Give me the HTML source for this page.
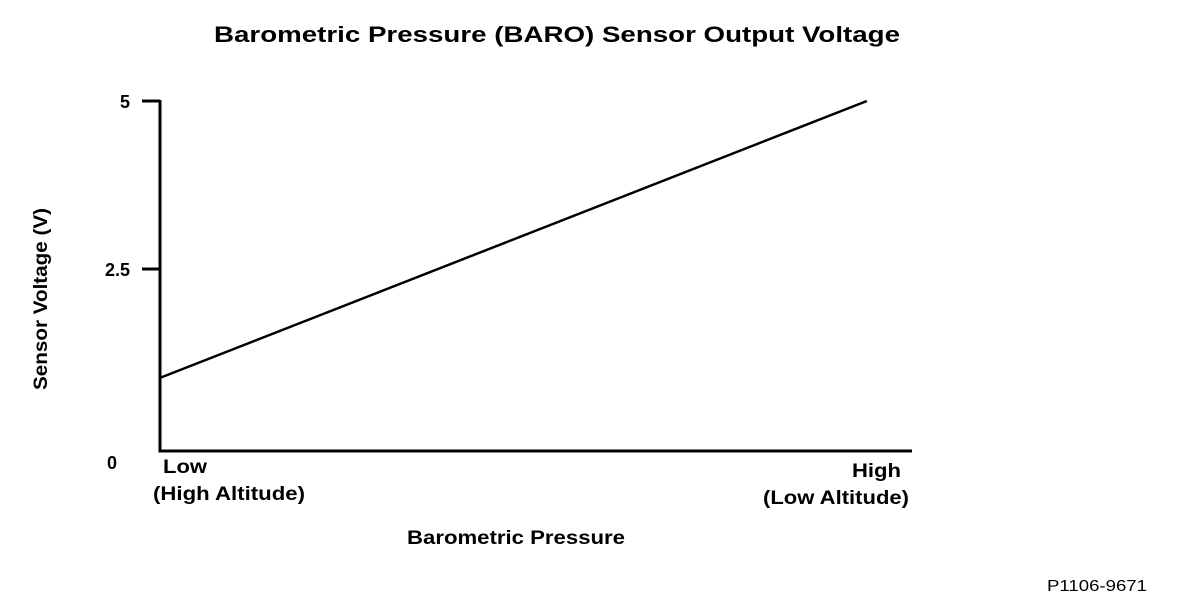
<!DOCTYPE html>
<html><head><meta charset="utf-8"><style>
html,body{margin:0;padding:0;background:#fff;}
svg{display:block;font-family:"Liberation Sans",Arial,sans-serif;font-weight:bold;}
</style></head><body>
<svg width="1184" height="608" viewBox="0 0 1184 608">
<text x="214" y="42" font-size="22" textLength="686" lengthAdjust="spacingAndGlyphs">Barometric Pressure (BARO) Sensor Output Voltage</text>
<g id="axes"></g>
<g id="ticks"></g>
<g id="series"></g>
<text x="0" y="0" font-size="19" textLength="182" lengthAdjust="spacingAndGlyphs" transform="translate(47 390) rotate(-90)">Sensor Voltage (V)</text>
<text x="107" y="469" font-size="18">0</text>
<text x="163" y="473" font-size="19" textLength="44" lengthAdjust="spacingAndGlyphs">Low</text>
<text x="153" y="500" font-size="19" textLength="152" lengthAdjust="spacingAndGlyphs">(High Altitude)</text>
<text x="852" y="477" font-size="19" textLength="49" lengthAdjust="spacingAndGlyphs">High</text>
<text x="763" y="504" font-size="19" textLength="146" lengthAdjust="spacingAndGlyphs">(Low Altitude)</text>
<text x="407" y="544" font-size="19" textLength="218" lengthAdjust="spacingAndGlyphs">Barometric Pressure</text>
<text x="1047" y="591" font-size="16" font-weight="normal" textLength="100" lengthAdjust="spacingAndGlyphs">P1106-9671</text>
</svg>
<script>
const pressure = [0, 0.94];
const voltage = [0.88, 5.0];
const tickValues = [5, 2.5];
const tickLabels = ["5", "2.5"];
const NS = "http://www.w3.org/2000/svg";
const x0 = 160, x1 = 912, yAxisBottom = 451;
function xs(p){ return x0 + p * (x1 - x0); }
function ys(v){ return 437 - v * 67.2; }
function mk(tag, attrs, parent){
  const e = document.createElementNS(NS, tag);
  for (const k in attrs) e.setAttribute(k, attrs[k]);
  parent.appendChild(e); return e;
}
const axes = document.getElementById("axes");
const ya = mk("line", {x1:x0, y1:ys(5)-1, x2:x0, y2:yAxisBottom+1.5, stroke:"#000", "stroke-width":3}, axes);


const xa = mk("line", {x1:x0-1.5, y1:yAxisBottom, x2:x1, y2:yAxisBottom, stroke:"#000", "stroke-width":3}, axes);


const ticks = document.getElementById("ticks");
tickValues.forEach((v, i) => {
  const t = mk("line", {x1:142, y1:ys(v), x2:x0, y2:ys(v), stroke:"#000", "stroke-width":3}, ticks);
  
  
  const l = mk("text", {x:130, y:ys(v)+7, "text-anchor":"end", "font-size":18}, ticks);
  l.textContent = tickLabels[i];
  
  
});
const series = document.getElementById("series");
const pts = pressure.map((p, i) => xs(p) + "," + ys(voltage[i])).join(" ");
const pl = mk("polyline", {points:pts, fill:"none", stroke:"#000", "stroke-width":2.5}, series);


</script>
</body></html>
